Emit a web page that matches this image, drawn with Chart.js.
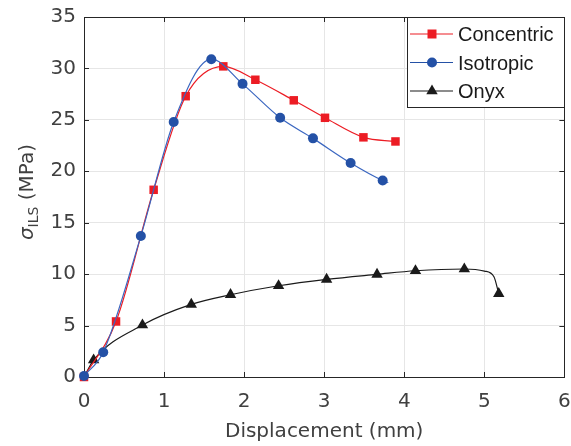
<!DOCTYPE html>
<html>
<head>
<meta charset="utf-8">
<script src="https://cdn.jsdelivr.net/npm/chart.js@4.4.0/dist/chart.umd.min.js"></script>
<style>
  html, body { margin: 0; padding: 0; background: #fff; }
  #chart { display: block; }
</style>
</head>
<body>
<canvas id="chart" width="571" height="446"></canvas>
<script>
// values (displacement in mm, stress in MPa)
const concX = [0, 0.40, 0.87, 1.27, 1.74, 2.14, 2.62, 3.01, 3.49, 3.89];
const concY = [0, 5.4, 18.2, 27.3, 30.2, 28.9, 26.9, 25.2, 23.3, 22.9];

const isoX = [0, 0.24, 0.71, 1.12, 1.59, 1.98, 2.45, 2.86, 3.33, 3.73, 3.80];
const isoY = [0.1, 2.4, 13.7, 24.8, 30.9, 28.5, 25.2, 23.2, 20.8, 19.1, 18.9];
const isoMarker = [1, 1, 1, 1, 1, 1, 1, 1, 1, 1, 0];

const onyxX = [0, 0.12, 0.73, 1.34, 1.83, 2.43, 3.03, 3.66, 4.14, 4.75, 5.00, 5.12, 5.18];
const onyxY = [0, 1.65, 5.05, 7.06, 8.0, 8.87, 9.49, 9.98, 10.33, 10.5, 10.3, 9.75, 8.1];
const onyxMarker = [0, 1, 1, 1, 1, 1, 1, 1, 1, 1, 0, 0, 1];

const xTicks = [0, 1, 2, 3, 4, 5, 6];
const yTicks = [0, 5, 10, 15, 20, 25, 30, 35];

const RED = "#ec1c24";
const BLUE = "#2451a6";
const BLACK = "#1a1a1a";
const AXIS = "#262626";
const TEXT = "#404040";

const toPoints = (xs, ys) => xs.map((x, i) => ({ x: x, y: ys[i] }));

// legend entries and axis box / inward ticks, drawn by hand like matlab
const decorations = {
  id: "decorations",
  beforeDatasetsDraw(chart) {
    const { ctx, chartArea: a, scales } = chart;
    ctx.save();
    ctx.strokeStyle = AXIS;
    ctx.lineWidth = 1;
    ctx.beginPath();
    xTicks.forEach(t => {
      const px = Math.round(scales.x.getPixelForValue(t)) + 0.5;
      ctx.moveTo(px, a.bottom); ctx.lineTo(px, a.bottom - 5);
      ctx.moveTo(px, a.top); ctx.lineTo(px, a.top + 5);
    });
    yTicks.forEach(t => {
      const py = Math.round(scales.y.getPixelForValue(t)) + 0.5;
      ctx.moveTo(a.left, py); ctx.lineTo(a.left + 5, py);
      ctx.moveTo(a.right, py); ctx.lineTo(a.right - 5, py);
    });
    ctx.stroke();
    ctx.strokeRect(Math.round(a.left) + 0.5, Math.round(a.top) + 0.5,
      Math.round(a.right - a.left), Math.round(a.bottom - a.top));
    ctx.restore();
  },
  afterDraw(chart) {
    const { ctx, chartArea: a } = chart;
    ctx.save();

    // x title
    ctx.fillStyle = TEXT;
    ctx.font = '20px "DejaVu Sans"';
    ctx.textAlign = "center";
    ctx.textBaseline = "alphabetic";
    ctx.fillText("Displacement (mm)", (a.left + a.right) / 2, 437);

    // y title with subscript
    ctx.translate(33, 192);
    ctx.rotate(-Math.PI / 2);
    ctx.textAlign = "left";
    const fSig = 'italic 20px "DejaVu Sans"';
    const fSub = '14px "DejaVu Sans"';
    const fMain = '20px "DejaVu Sans"';
    ctx.font = fSig; const wSig = ctx.measureText("σ").width;
    ctx.font = fSub; const wSub = ctx.measureText("ILS").width;
    ctx.font = fMain; const wMain = ctx.measureText(" (MPa)").width;
    let x0 = -(wSig + wSub + wMain) / 2;
    ctx.font = fSig; ctx.fillText("σ", x0, 0); x0 += wSig;
    ctx.font = fSub; ctx.fillText("ILS", x0, 5); x0 += wSub;
    ctx.font = fMain; ctx.fillText(" (MPa)", x0, 0);
    ctx.restore();

    // legend
    ctx.save();
    ctx.fillStyle = "#fff";
    ctx.fillRect(407.5, 17.5, 157, 90);
    ctx.strokeStyle = AXIS;
    ctx.lineWidth = 1;
    ctx.strokeRect(407.5, 17.5, 157, 90);
    const rows = [
      { label: "Concentric", color: RED, shape: "rect", y: 34 },
      { label: "Isotropic", color: BLUE, shape: "circle", y: 62.5 },
      { label: "Onyx", color: BLACK, shape: "triangle", y: 91 }
    ];
    rows.forEach(r => {
      ctx.strokeStyle = r.color;
      ctx.lineWidth = 1.2;
      ctx.beginPath();
      ctx.moveTo(410, r.y); ctx.lineTo(453, r.y);
      ctx.stroke();
      ctx.fillStyle = r.color;
      ctx.beginPath();
      if (r.shape === "rect") {
        ctx.rect(432 - 4.5, r.y - 4.5, 9, 9);
      } else if (r.shape === "circle") {
        ctx.arc(432, r.y, 5, 0, Math.PI * 2);
      } else {
        ctx.moveTo(432, r.y - 6.6);
        ctx.lineTo(432 + 5.7, r.y + 3.3);
        ctx.lineTo(432 - 5.7, r.y + 3.3);
        ctx.closePath();
      }
      ctx.fill();
      ctx.fillStyle = BLACK;
      ctx.font = '20px "Liberation Sans"';
      ctx.textAlign = "left";
      ctx.textBaseline = "alphabetic";
      ctx.fillText(r.label, 458, r.y + 7.3);
    });
    ctx.restore();
  }
};

const tickFont = { family: "DejaVu Sans", size: 20 };

new Chart(document.getElementById("chart"), {
  type: "line",
  data: {
    datasets: [
      {
        label: "Isotropic",
        data: toPoints(isoX, isoY),
        borderColor: "#3a66c0",
        backgroundColor: BLUE,
        borderWidth: 1.2,
        pointStyle: "circle",
        pointRadius: isoMarker.map(m => m ? 5 : 0),
        pointBorderWidth: 0,
        cubicInterpolationMode: "monotone",
        clip: false
      },
      {
        label: "Concentric",
        data: toPoints(concX, concY),
        borderColor: RED,
        backgroundColor: RED,
        borderWidth: 1.2,
        pointStyle: "rect",
        pointRadius: 6,
        pointBorderWidth: 0,
        cubicInterpolationMode: "monotone",
        clip: false
      },
      {
        label: "Onyx",
        data: toPoints(onyxX, onyxY),
        borderColor: BLACK,
        backgroundColor: BLACK,
        borderWidth: 1.2,
        pointStyle: "triangle",
        pointRadius: onyxMarker.map(m => m ? 6.6 : 0),
        pointBorderWidth: 0,
        cubicInterpolationMode: "monotone",
        clip: false
      }
    ]
  },
  options: {
    responsive: false,
    animation: false,
    devicePixelRatio: 1,
    layout: { padding: { top: 17, right: 5, left: 0, bottom: 0 } },
    plugins: { legend: { display: false }, tooltip: { enabled: false } },
    scales: {
      x: {
        type: "linear",
        min: 0,
        max: 6,
        afterFit: s => { s.height = 69; s.paddingLeft = 0; s.paddingRight = 0; },
        afterBuildTicks: s => { s.ticks = xTicks.map(v => ({ value: v })); },
        ticks: { font: tickFont, color: TEXT, padding: 13 },
        grid: { color: "#e6e6e6", drawTicks: false },
        border: { display: false }
      },
      y: {
        type: "linear",
        min: 0,
        max: 35,
        afterFit: s => { s.width = 84; s.paddingTop = 0; s.paddingBottom = 0; },
        afterBuildTicks: s => { s.ticks = yTicks.map(v => ({ value: v })); },
        ticks: { font: tickFont, color: TEXT, padding: 8 },
        grid: { color: "#e6e6e6", drawTicks: false },
        border: { display: false }
      }
    }
  },
  plugins: [decorations]
});
</script>
</body>
</html>
